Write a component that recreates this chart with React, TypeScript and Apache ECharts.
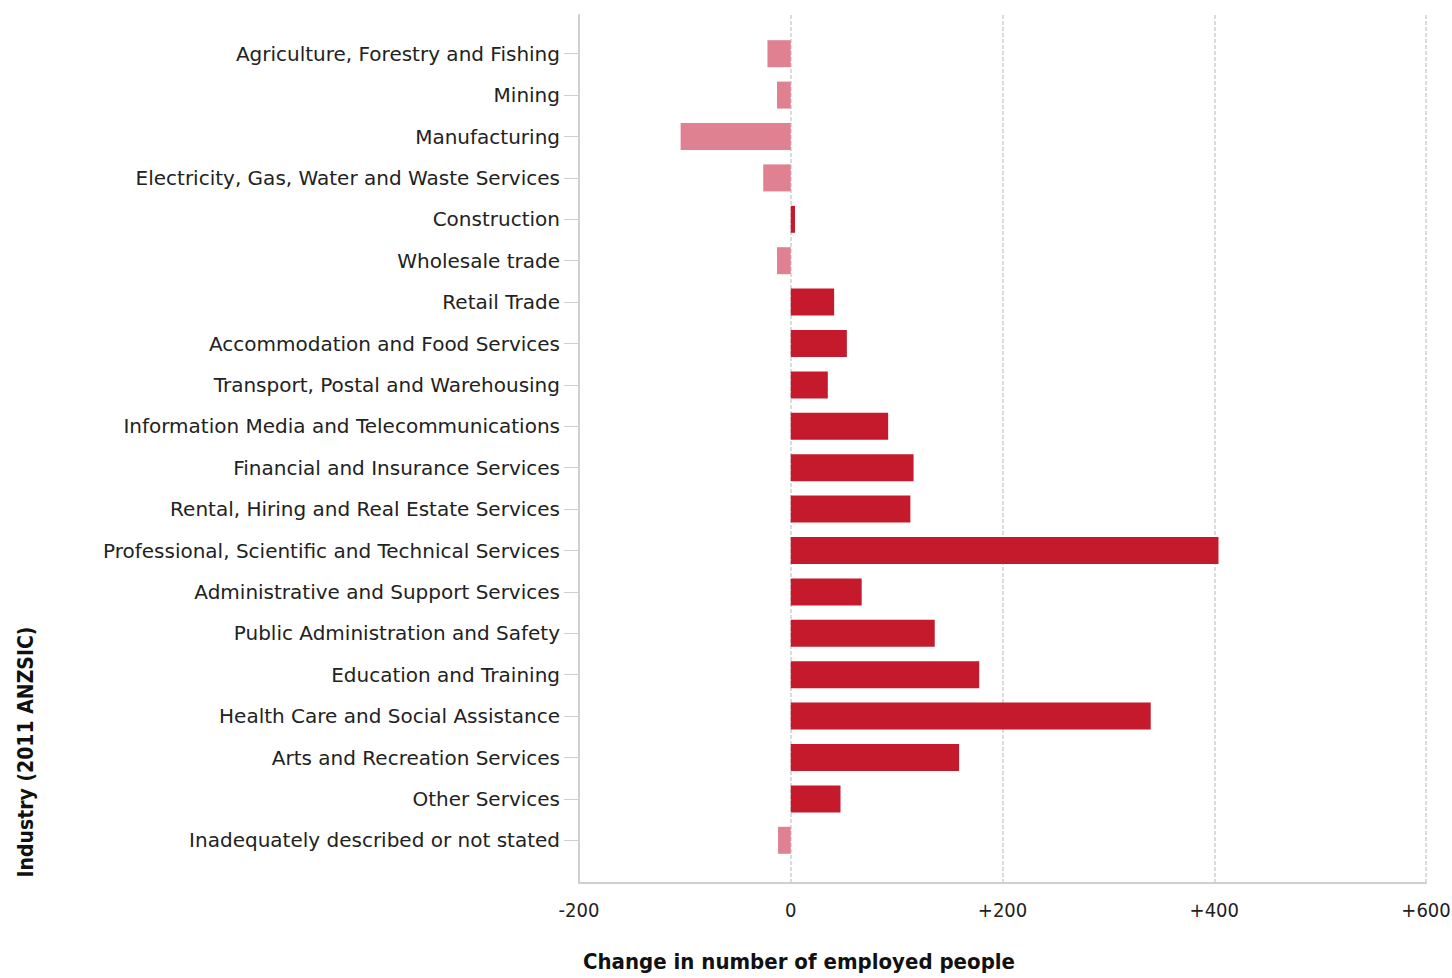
import React, { useEffect, useRef } from "react";
import * as echarts from "echarts";

const categories = [
  "Agriculture, Forestry and Fishing",
  "Mining",
  "Manufacturing",
  "Electricity, Gas, Water and Waste Services",
  "Construction",
  "Wholesale trade",
  "Retail Trade",
  "Accommodation and Food Services",
  "Transport, Postal and Warehousing",
  "Information Media and Telecommunications",
  "Financial and Insurance Services",
  "Rental, Hiring and Real Estate Services",
  "Professional, Scientific and Technical Services",
  "Administrative and Support Services",
  "Public Administration and Safety",
  "Education and Training",
  "Health Care and Social Assistance",
  "Arts and Recreation Services",
  "Other Services",
  "Inadequately described or not stated",
];

const changeValues = [
  -22, -13, -104, -26, 4, -13, 41, 53, 35, 92, 116, 113, 404, 67, 136, 178, 340, 159, 47, -12,
];

const xTicks = { min: -200, max: 600, interval: 200 };

const POS = "#C41A2C";
const NEG = "#DF8191";
const GRID_GRAY = "#cfcfcf";

export default function App() {
  const ref = useRef<HTMLDivElement>(null);
  useEffect(() => {
    if (!ref.current) return;
    const chart = echarts.init(ref.current, undefined, { renderer: "svg" });
    const labelFont = "'DejaVu Sans', Verdana, sans-serif";
    const condFont = "'DejaVu Sans Condensed', 'DejaVu Sans', sans-serif";
    chart.setOption({
      animation: false,
      backgroundColor: "#ffffff",
      grid: [
        { left: 579, width: 847, top: 33, height: 828, containLabel: false, outerBoundsMode: "none" },
        { left: 579, width: 847, top: 15, height: 868, containLabel: false, outerBoundsMode: "none" },
      ],
      xAxis: [
        {
          gridIndex: 0,
          type: "value",
          min: xTicks.min,
          max: xTicks.max,
          interval: xTicks.interval,
          show: false,
        },
        {
          gridIndex: 1,
          type: "value",
          min: xTicks.min,
          max: xTicks.max,
          interval: xTicks.interval,
          axisLine: { show: true, onZero: false, lineStyle: { color: GRID_GRAY, width: 2 } },
          axisTick: { show: false },
          splitLine: { show: true, lineStyle: { color: GRID_GRAY, type: [4, 2], width: 1.5 } },
          axisLabel: {
            margin: 17,
            fontSize: 20,
            fontFamily: condFont,
            color: "#222",
            hideOverlap: false,
            formatter: (v: number) => (v > 0 ? "+" + v : String(v)),
          },
        },
      ],
      yAxis: [
        {
          gridIndex: 0,
          type: "category",
          data: categories,
          inverse: true,
          axisLine: { show: false, onZero: false },
          axisTick: {
            show: true,
            alignWithLabel: true,
            length: 15,
            lineStyle: { color: GRID_GRAY, width: 1 },
          },
          axisLabel: {
            margin: 19,
            fontSize: 20,
            fontFamily: labelFont,
            color: "#222",
          },
          splitLine: { show: false },
        },
        {
          gridIndex: 1,
          type: "value",
          min: 0,
          max: 1,
          axisLine: { show: true, onZero: false, lineStyle: { color: GRID_GRAY, width: 2 } },
          axisTick: { show: false },
          axisLabel: { show: false },
          splitLine: { show: false },
        },
      ],
      series: [
        {
          type: "bar",
          xAxisIndex: 0,
          yAxisIndex: 0,
          data: changeValues,
          barWidth: 27,
          itemStyle: {
            color: (p: any) => (p.value < 0 ? NEG : POS),
          },
          z: 3,
        },
      ],
      graphic: [
        {
          type: "text",
          left: 583,
          top: 950,
          style: {
            text: "Change in number of employed people",
            fontSize: 22,
            fontWeight: "bold",
            fontFamily: condFont,
            fill: "#111",
          },
        },
        {
          type: "text",
          x: 26,
          y: 752,
          rotation: Math.PI / 2,
          style: {
            text: "Industry (2011 ANZSIC)",
            fontSize: 21,
            fontWeight: "bold",
            fontFamily: condFont,
            fill: "#111",
            align: "center",
            verticalAlign: "middle",
          },
        },
      ],
    });
    return () => chart.dispose();
  }, []);
  return (
    <div
      ref={ref}
      style={{ position: "fixed", left: 0, top: 0, width: 1452, height: 978 }}
    />
  );
}
